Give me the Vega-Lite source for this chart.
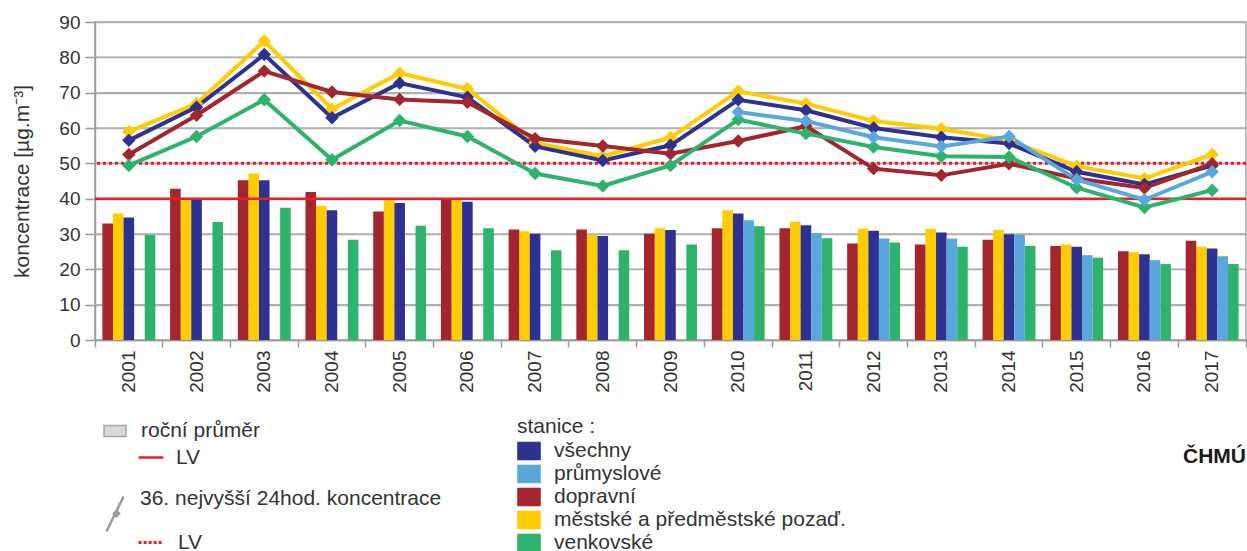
{
  "$schema": "https://vega.github.io/schema/vega-lite/v6.json",
  "width": 1151,
  "height": 318,
  "autosize": {"type": "none"},
  "padding": {"left": 95, "top": 22, "right": 1, "bottom": 211},
  "background": "white",
  "title": {"text": "ČHMÚ", "orient": "top", "anchor": "end", "frame": "group", "baseline": "alphabetic", "offset": 0, "dy": 471, "font": "Liberation Sans", "fontSize": 21, "fontWeight": "bold", "color": "#1a1a1a"},
  "datasets": {
    "main": [
      {"year": "2001", "station": "městské a předměstské pozaď.", "avg": 35.8, "p36": 59.0},
      {"year": "2001", "station": "všechny", "avg": 34.7, "p36": 56.5},
      {"year": "2001", "station": "dopravní", "avg": 33.0, "p36": 52.5},
      {"year": "2001", "station": "venkovské", "avg": 29.7, "p36": 49.4},
      {"year": "2002", "station": "městské a předměstské pozaď.", "avg": 39.7, "p36": 66.9},
      {"year": "2002", "station": "všechny", "avg": 39.7, "p36": 65.9},
      {"year": "2002", "station": "dopravní", "avg": 42.8, "p36": 63.6},
      {"year": "2002", "station": "venkovské", "avg": 33.4, "p36": 57.6},
      {"year": "2003", "station": "městské a předměstské pozaď.", "avg": 47.1, "p36": 84.6},
      {"year": "2003", "station": "všechny", "avg": 45.2, "p36": 80.8},
      {"year": "2003", "station": "dopravní", "avg": 45.2, "p36": 76.1},
      {"year": "2003", "station": "venkovské", "avg": 37.4, "p36": 68.0},
      {"year": "2004", "station": "městské a předměstské pozaď.", "avg": 37.9, "p36": 65.4},
      {"year": "2004", "station": "všechny", "avg": 36.7, "p36": 62.9},
      {"year": "2004", "station": "dopravní", "avg": 41.9, "p36": 70.2},
      {"year": "2004", "station": "venkovské", "avg": 28.4, "p36": 51.0},
      {"year": "2005", "station": "městské a předměstské pozaď.", "avg": 40.0, "p36": 75.5},
      {"year": "2005", "station": "všechny", "avg": 38.8, "p36": 72.7},
      {"year": "2005", "station": "dopravní", "avg": 36.4, "p36": 68.1},
      {"year": "2005", "station": "venkovské", "avg": 32.3, "p36": 62.1},
      {"year": "2006", "station": "městské a předměstské pozaď.", "avg": 39.7, "p36": 71.1},
      {"year": "2006", "station": "všechny", "avg": 39.1, "p36": 68.7},
      {"year": "2006", "station": "dopravní", "avg": 39.7, "p36": 67.3},
      {"year": "2006", "station": "venkovské", "avg": 31.6, "p36": 57.6},
      {"year": "2007", "station": "městské a předměstské pozaď.", "avg": 30.8, "p36": 55.8},
      {"year": "2007", "station": "všechny", "avg": 30.1, "p36": 54.8},
      {"year": "2007", "station": "dopravní", "avg": 31.3, "p36": 57.0},
      {"year": "2007", "station": "venkovské", "avg": 25.4, "p36": 47.1},
      {"year": "2008", "station": "městské a předměstské pozaď.", "avg": 29.8, "p36": 52.0},
      {"year": "2008", "station": "všechny", "avg": 29.4, "p36": 50.8},
      {"year": "2008", "station": "dopravní", "avg": 31.3, "p36": 54.9},
      {"year": "2008", "station": "venkovské", "avg": 25.4, "p36": 43.6},
      {"year": "2009", "station": "městské a předměstské pozaď.", "avg": 31.6, "p36": 57.3},
      {"year": "2009", "station": "všechny", "avg": 31.1, "p36": 55.1},
      {"year": "2009", "station": "dopravní", "avg": 30.1, "p36": 52.7},
      {"year": "2009", "station": "venkovské", "avg": 27.0, "p36": 49.4},
      {"year": "2010", "station": "městské a předměstské pozaď.", "avg": 36.7, "p36": 70.4},
      {"year": "2010", "station": "všechny", "avg": 35.8, "p36": 68.0},
      {"year": "2010", "station": "dopravní", "avg": 31.6, "p36": 56.3},
      {"year": "2010", "station": "venkovské", "avg": 32.2, "p36": 62.4},
      {"year": "2010", "station": "průmyslové", "avg": 33.9, "p36": 64.5},
      {"year": "2011", "station": "městské a předměstské pozaď.", "avg": 33.5, "p36": 66.9},
      {"year": "2011", "station": "všechny", "avg": 32.5, "p36": 65.0},
      {"year": "2011", "station": "dopravní", "avg": 31.6, "p36": 60.5},
      {"year": "2011", "station": "venkovské", "avg": 28.8, "p36": 58.4},
      {"year": "2011", "station": "průmyslové", "avg": 30.3, "p36": 62.0},
      {"year": "2012", "station": "městské a předměstské pozaď.", "avg": 31.5, "p36": 62.0},
      {"year": "2012", "station": "všechny", "avg": 30.9, "p36": 60.0},
      {"year": "2012", "station": "dopravní", "avg": 27.3, "p36": 48.5},
      {"year": "2012", "station": "venkovské", "avg": 27.6, "p36": 54.6},
      {"year": "2012", "station": "průmyslové", "avg": 28.7, "p36": 57.4},
      {"year": "2013", "station": "městské a předměstské pozaď.", "avg": 31.5, "p36": 59.8},
      {"year": "2013", "station": "všechny", "avg": 30.4, "p36": 57.4},
      {"year": "2013", "station": "dopravní", "avg": 27.0, "p36": 46.6},
      {"year": "2013", "station": "venkovské", "avg": 26.4, "p36": 52.0},
      {"year": "2013", "station": "průmyslové", "avg": 28.7, "p36": 54.8},
      {"year": "2014", "station": "městské a předměstské pozaď.", "avg": 31.1, "p36": 56.5},
      {"year": "2014", "station": "všechny", "avg": 29.9, "p36": 55.6},
      {"year": "2014", "station": "dopravní", "avg": 28.4, "p36": 49.9},
      {"year": "2014", "station": "venkovské", "avg": 26.6, "p36": 51.8},
      {"year": "2014", "station": "průmyslové", "avg": 29.8, "p36": 57.6},
      {"year": "2015", "station": "městské a předměstské pozaď.", "avg": 27.0, "p36": 49.2},
      {"year": "2015", "station": "všechny", "avg": 26.4, "p36": 47.6},
      {"year": "2015", "station": "dopravní", "avg": 26.6, "p36": 45.7},
      {"year": "2015", "station": "venkovské", "avg": 23.3, "p36": 43.1},
      {"year": "2015", "station": "průmyslové", "avg": 24.0, "p36": 45.4},
      {"year": "2016", "station": "městské a předměstské pozaď.", "avg": 24.8, "p36": 45.7},
      {"year": "2016", "station": "všechny", "avg": 24.3, "p36": 44.0},
      {"year": "2016", "station": "dopravní", "avg": 25.1, "p36": 43.0},
      {"year": "2016", "station": "venkovské", "avg": 21.5, "p36": 37.5},
      {"year": "2016", "station": "průmyslové", "avg": 22.6, "p36": 39.7},
      {"year": "2017", "station": "městské a předměstské pozaď.", "avg": 26.4, "p36": 52.5},
      {"year": "2017", "station": "všechny", "avg": 25.9, "p36": 49.4},
      {"year": "2017", "station": "dopravní", "avg": 28.1, "p36": 49.9},
      {"year": "2017", "station": "venkovské", "avg": 21.5, "p36": 42.4},
      {"year": "2017", "station": "průmyslové", "avg": 23.7, "p36": 47.6}
    ]
  },
  "layer": [
    {
      "data": {"values": [{"g": 10}, {"g": 20}, {"g": 30}, {"g": 40}, {"g": 50}, {"g": 60}, {"g": 70}, {"g": 80}, {"g": 90}]},
      "mark": {"type": "rule", "color": "#b0b0b0", "strokeWidth": 1.5},
      "encoding": {"y": {"field": "g", "type": "quantitative", "axis": {"title": "koncentrace [µg.m⁻³]", "values": [0, 10, 20, 30, 40, 50, 60, 70, 80, 90], "grid": true}}}
    },
    {
      "data": {"name": "main"},
      "mark": {"type": "bar"},
      "encoding": {
        "x": {
          "field": "year", "type": "ordinal",
          "scale": {"paddingInner": 0, "paddingOuter": 0},
          "axis": {"title": null, "labelAngle": -90, "bandPosition": 1, "tickExtra": true}
        },
        "xOffset": {
          "field": "station", "type": "nominal",
          "scale": {"domain": ["dopravní", "městské a předměstské pozaď.", "všechny", "průmyslové", "venkovské"], "paddingInner": 0, "paddingOuter": 0.7}
        },
        "y": {
          "field": "avg", "type": "quantitative",
          "scale": {"domain": [0, 90], "nice": false},
          "axis": {"title": "koncentrace [µg.m⁻³]", "values": [0, 10, 20, 30, 40, 50, 60, 70, 80, 90], "grid": true}
        },
        "color": {
          "field": "station", "type": "nominal",
          "scale": {"domain": ["všechny", "průmyslové", "dopravní", "městské a předměstské pozaď.", "venkovské"], "range": ["#2e3192", "#5aa7dd", "#a3262e", "#ffcc00", "#2db36b"]},
          "legend": {
            "orient": "none", "legendX": 422, "legendY": 394, "title": "stanice :", "symbolSize": 529, "labelOffset": 13, "rowPadding": -2, "titlePadding": 2,
            "symbolType": "M-1,-0.78H1V0.78H-1Z", "symbolStrokeColor": "#8a8a8a", "symbolStrokeWidth": 0.6, "symbolOpacity": 1
          }
        }
      }
    },
    {
      "data": {"values": [{"lv": 40}]},
      "mark": {"type": "rule", "color": "#ed1c24", "strokeWidth": 2.5},
      "encoding": {"y": {"field": "lv", "type": "quantitative", "axis": {"title": "koncentrace [µg.m⁻³]", "values": [0, 10, 20, 30, 40, 50, 60, 70, 80, 90], "grid": true}}}
    },
    {
      "data": {"values": [{"lv": 50}]},
      "mark": {"type": "rule", "color": "#ed1c24", "strokeWidth": 3, "strokeDash": [3, 3]},
      "encoding": {"y": {"field": "lv", "type": "quantitative", "axis": {"title": "koncentrace [µg.m⁻³]", "values": [0, 10, 20, 30, 40, 50, 60, 70, 80, 90], "grid": true}}}
    },
    {
      "data": {"name": "main"},
      "mark": {"type": "line", "strokeWidth": 4, "point": {"shape": "diamond", "size": 180, "filled": true}},
      "encoding": {
        "x": {"field": "year", "type": "ordinal"},
        "y": {"field": "p36", "type": "quantitative", "axis": {"title": "koncentrace [µg.m⁻³]", "values": [0, 10, 20, 30, 40, 50, 60, 70, 80, 90], "grid": true}},
        "color": {"field": "station", "type": "nominal", "legend": null}
      }
    },
    {
      "data": {"values": []},
      "mark": {"type": "point", "filled": true, "fill": "#d9d9d9", "stroke": "#a6a6a6", "strokeWidth": 1, "opacity": 1},
      "encoding": {
        "shape": {
          "field": "l1", "type": "nominal",
          "scale": {"domain": ["roční průměr"], "range": ["M-1,-0.5H1V0.5H-1Z"]},
          "legend": {"orient": "none", "legendX": 8, "legendY": 397, "title": null, "symbolSize": 484, "labelOffset": 14}
        }
      }
    },
    {
      "data": {"values": []},
      "mark": {"type": "point", "filled": false, "stroke": "#ed1c24", "strokeWidth": 2.5, "opacity": 1},
      "encoding": {
        "strokeDash": {
          "field": "l2", "type": "nominal",
          "scale": {"domain": ["LV"], "range": [[1, 0]]},
          "legend": {"orient": "none", "legendX": 8, "legendY": 423, "title": null, "symbolSize": 484, "labelOffset": 48, "symbolType": "M2.1,0H4.35", "symbolStrokeColor": "#ed1c24", "symbolStrokeWidth": 2.5, "symbolFillColor": "transparent"}
        }
      }
    },
    {
      "data": {"values": []},
      "mark": {"type": "point", "filled": true, "stroke": "#9a9a9a", "strokeWidth": 2.5, "opacity": 1},
      "encoding": {
        "fill": {
          "field": "l3", "type": "nominal",
          "scale": {"domain": ["36. nejvyšší 24hod. koncentrace"], "range": ["#9a9a9a"]},
          "legend": {"orient": "none", "legendX": 8, "legendY": 464, "title": null, "symbolSize": 484, "labelOffset": 12, "symbolType": "M0.73,-0.18L-0.82,3M0.09,1.12L0.32,1.36L0.09,1.6L-0.14,1.36Z", "symbolStrokeColor": "#9a9a9a", "symbolStrokeWidth": 2.5}
        }
      }
    },
    {
      "data": {"values": []},
      "mark": {"type": "point", "filled": false, "strokeWidth": 3, "opacity": 1},
      "encoding": {
        "stroke": {
          "field": "l4", "type": "nominal",
          "scale": {"domain": ["LV "], "range": ["#ed1c24"]},
          "legend": {"orient": "none", "legendX": 8, "legendY": 508, "title": null, "symbolSize": 484, "labelOffset": 50, "symbolType": "M2.1,0H4.35", "symbolDash": [3, 2], "symbolStrokeWidth": 3, "symbolFillColor": "transparent"}
        }
      }
    }
  ],
  "config": {
    "font": "Liberation Sans",
    "view": {"stroke": "#a8a8a8", "strokeWidth": 1.5},
    "axis": {"labelFont": "Liberation Sans", "labelColor": "#333", "domainColor": "#999", "tickColor": "#999", "domainWidth": 1.5, "tickWidth": 1.5, "labelOverlap": false},
    "axisX": {"labelFontSize": 19, "tickSize": 7, "labelPadding": 3, "grid": false, "labelAngle": -90},
    "axisY": {"grid": true, "gridColor": "#b0b0b0", "gridWidth": 1.5, "gridOpacity": 1, "tickCount": 10, "tickSize": 10, "labelPadding": 5, "labelFontSize": 19, "titleFontSize": 21, "titleFont": "Liberation Sans", "titleFontWeight": "normal", "titleColor": "#333", "titlePadding": 26},
    "legend": {"labelFont": "Liberation Sans", "labelFontSize": 21, "labelColor": "#333", "titleFont": "Liberation Sans", "titleFontSize": 21, "titleFontWeight": "normal", "titleColor": "#333", "labelLimit": 600, "padding": 0}
  }
}
